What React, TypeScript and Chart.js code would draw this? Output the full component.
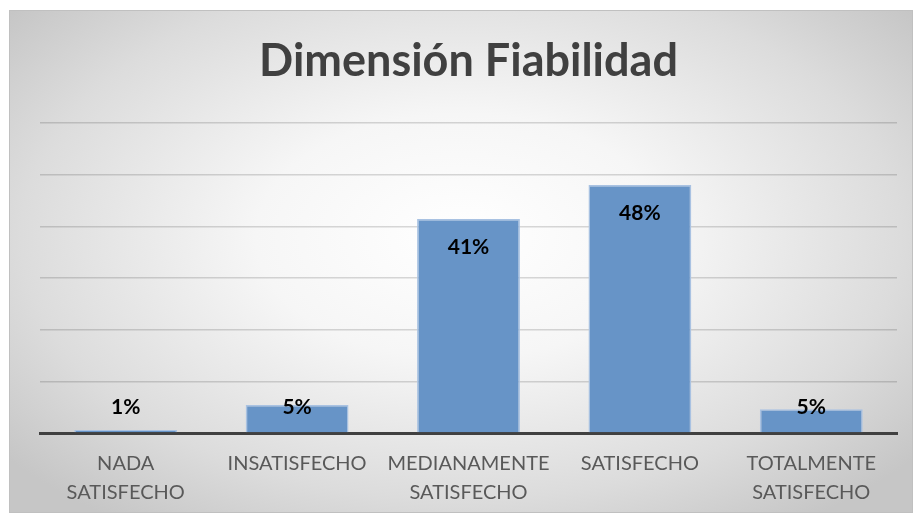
import React, { useEffect, useRef } from "react";
import { Chart, registerables } from "chart.js";

Chart.register(...registerables);

const TITLE = "Dimensión Fiabilidad";
const categories: (string | string[])[] = [
  ["NADA", "SATISFECHO"],
  "INSATISFECHO",
  ["MEDIANAMENTE", "SATISFECHO"],
  "SATISFECHO",
  ["TOTALMENTE", "SATISFECHO"],
];
const values: number[] = [0.6, 5.4, 41.4, 48, 4.6];
const yMax = 60;
const yStep = 10;

const FONT = "Lato, 'Open Sans', sans-serif";

const labelPlugin = {
  id: "barLabels",
  afterDatasetsDraw(chart: any) {
    const ctx = chart.ctx;
    const meta = chart.getDatasetMeta(0);
    ctx.save();
    ctx.font = `bold 21px ${FONT}`;
    ctx.fillStyle = "#000000";
    ctx.textAlign = "center";
    ctx.textBaseline = "middle";
    meta.data.forEach((bar: any, i: number) => {
      const y = Math.min(bar.y + 28, bar.base - 25);
      ctx.fillText(Math.round(values[i]) + "%", bar.x, y);
    });
    ctx.restore();
  },
};

export default function App() {
  const ref = useRef<HTMLCanvasElement | null>(null);
  useEffect(() => {
    if (!ref.current) return;
    const chart = new Chart(ref.current, {
      type: "bar",
      data: {
        labels: categories,
        datasets: [
          {
            data: values,
            backgroundColor: "#6794C7",
            borderColor: "#A9C2E2",
            borderWidth: 1.5,
            categoryPercentage: 0.6,
            barPercentage: 1,
          },
        ],
      },
      options: {
        animation: false,
        responsive: false,
        maintainAspectRatio: false,
        layout: { padding: { left: 30, right: 15, bottom: 0, top: 0 } },
        plugins: {
          legend: { display: false },
          tooltip: { enabled: false },
          title: {
            display: true,
            text: TITLE,
            color: "#404040",
            font: { family: FONT, size: 45, weight: "bold", lineHeight: 1.2 },
            padding: { top: 23, bottom: 35 },
          },
        },
        scales: {
          x: {
            grid: { display: false, drawTicks: false },
            border: { display: true, color: "#404040", width: 3 },
            ticks: {
              color: "#595959",
              padding: 16,
              maxRotation: 0,
              autoSkip: false,
              font: { family: FONT, size: 20, lineHeight: 1.45 },
            },
            afterFit: (axis: any) => {
              axis.height = 79;
            },
          },
          y: {
            min: 0,
            max: yMax,
            ticks: { display: false, stepSize: yStep },
            grid: { color: "rgba(0,0,0,0.15)", lineWidth: 1.5, drawTicks: false },
            border: { display: false },
            afterFit: (axis: any) => {
              axis.width = 0;
            },
          },
        },
      },
      plugins: [labelPlugin],
    });
    return () => chart.destroy();
  }, []);
  return (
    <div
      style={{
        position: "absolute",
        left: 9,
        top: 10,
        width: 904,
        height: 503,
        border: "1px solid #c0c0c0",
        boxSizing: "border-box",
        background:
          "radial-gradient(ellipse 65% 70% at 50% 45%, #ffffff 0%, #f6f6f6 35%, #dcdcdc 75%, #c6c6c6 100%)",
      }}
    >
      <canvas ref={ref} width={902} height={501} style={{ display: "block" }} />
    </div>
  );
}
